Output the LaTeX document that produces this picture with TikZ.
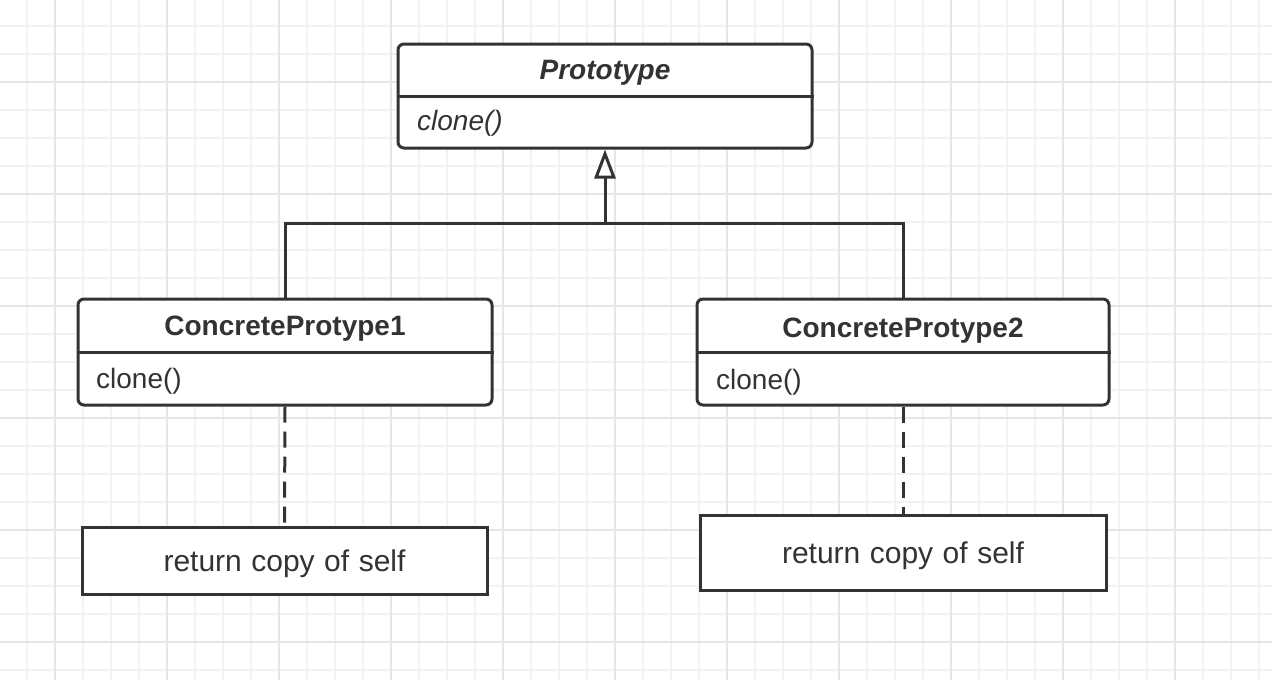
\documentclass[tikz,border=0pt]{standalone}
\usepackage{fontspec}
\setmainfont{Liberation Sans}
\usetikzlibrary{arrows.meta}
\definecolor{ink}{HTML}{333333}
\definecolor{gridminor}{HTML}{F2F2F2}
\definecolor{gridmajor}{HTML}{E6E6E6}
\newcommand\notefnt{\fontsize{30}{34}\selectfont\spaceskip=9.5pt\relax}
\begin{document}
\begin{tikzpicture}[x=1pt,y=-1pt,
  umlbox/.style={draw=ink, line width=3pt, rounded corners=6pt, fill=white, inner sep=0pt},
  notebox/.style={draw=ink, line width=3pt, fill=white, inner sep=0pt, text=ink,
    text height=21pt, text depth=0pt},
  titletext/.style={font=\fontsize{28}{32}\selectfont\bfseries, text=ink, inner sep=0pt, anchor=base},
  methtext/.style={font=\fontsize{28}{32}\selectfont, text=ink, inner sep=0pt, anchor=base west},
  conn/.style={draw=ink, line width=3pt},
  dashconn/.style={draw=ink, line width=3pt, dash pattern=on 16pt off 9pt}
]
\useasboundingbox (0,0) rectangle (1272,680);
\fill[white] (0,0) rectangle (1272,680);
% grid
\foreach \x in {27,55,...,1272} \draw[gridminor, line width=2pt] (\x,0) -- (\x,680);
\foreach \y in {26,54,...,680} \draw[gridminor, line width=2pt] (0,\y) -- (1272,\y);
\foreach \x in {55,167,...,1272} \draw[gridmajor, line width=2pt] (\x,0) -- (\x,680);
\foreach \y in {82,194,...,680} \draw[gridmajor, line width=2pt] (0,\y) -- (1272,\y);

% Prototype
\node[umlbox, minimum width=414pt, minimum height=104pt] (proto) at (605,96) {};
\draw[conn] (proto.west) -- (proto.east);
\node[titletext, font=\fontsize{28}{32}\selectfont\bfseries\itshape] (protot) at (605,79) {Prototype};
\node[methtext, font=\fontsize{28}{32}\selectfont\itshape] (protom) at (417,130) {clone()};

% ConcreteProtype1
\node[umlbox, minimum width=414pt, minimum height=106pt] (c1) at (285,352) {};
\draw[conn] (c1.west) -- (c1.east);
\node[titletext] (c1t) at (285,335) {ConcreteProtype1};
\node[methtext] (c1m) at (96,388) {clone()};

% ConcreteProtype2
\node[umlbox, minimum width=412pt, minimum height=106pt] (c2) at (903,352) {};
\draw[conn] (c2.west) -- (c2.east);
\node[titletext] (c2t) at (903,337) {ConcreteProtype2};
\node[methtext] (c2m) at (716,389) {clone()};

% notes
\node[notebox, minimum width=405pt, minimum height=67pt] (n1) at (284.5,560.5) {\notefnt return copy of self};
\node[notebox, minimum width=406pt, minimum height=75pt] (n2) at (903,552.5) {\notefnt return copy of self};

% inheritance
\coordinate (j) at (605,223);
\draw[conn] (c1.north) |- (j) -| (c2.north);
\draw[conn, -{Triangle[open, length=29pt, width=21pt, line width=3pt]}] (j) -- (proto.south);

% dashed links
\draw[dashconn] (c1.south) -- (n1.north);
\draw[dashconn] (c2.south) -- (n2.north);
\end{tikzpicture}
\end{document}
